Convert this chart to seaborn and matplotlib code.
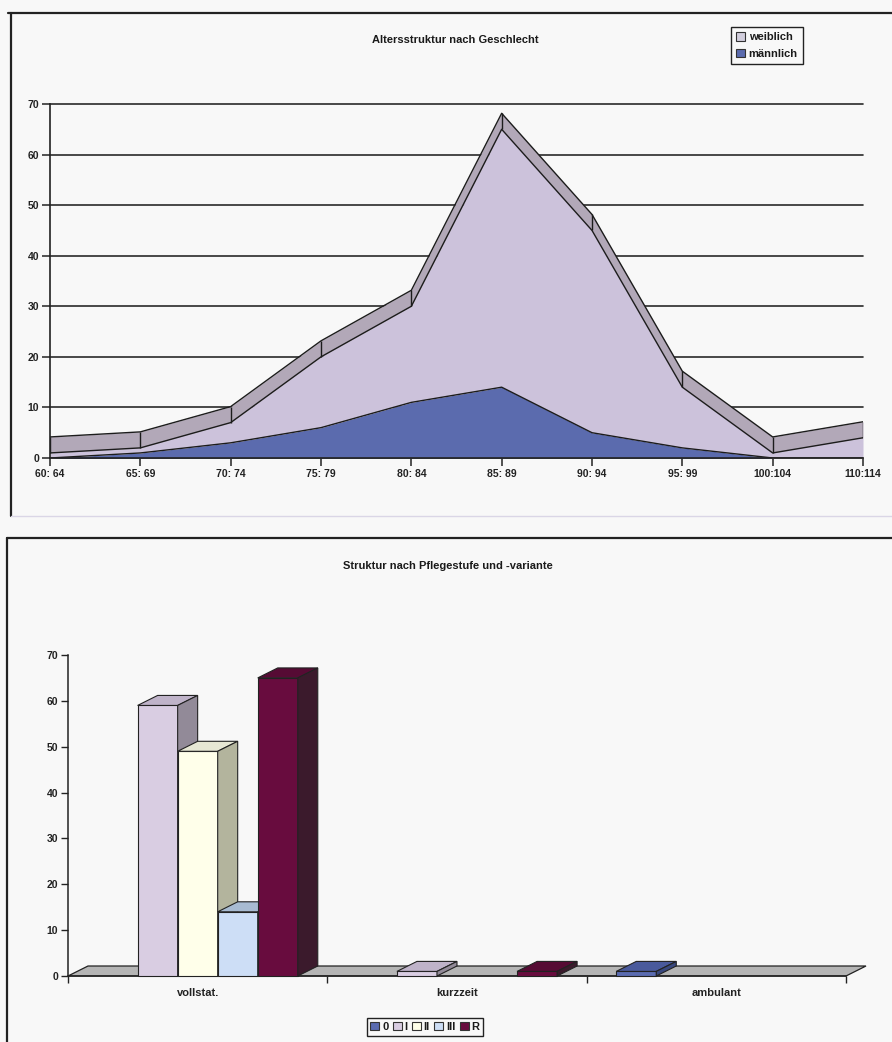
import numpy as np
import pandas as pd
import matplotlib
matplotlib.use("Agg")
import matplotlib.pyplot as plt
import seaborn as sns
from matplotlib.patches import Polygon, Patch
from matplotlib.lines import Line2D
from matplotlib.colors import to_hex

# --- Altersstruktur nach Geschlecht ---
age_groups = ["60: 64", "65: 69", "70: 74", "75: 79", "80: 84",
              "85: 89", "90: 94", "95: 99", "100:104", "110:114"]
maennlich = [0, 1, 3, 6, 11, 14, 5, 2, 0, 0]
weiblich = [1, 1, 4, 14, 19, 51, 40, 12, 1, 4]

# --- Struktur nach Pflegestufe und -variante ---
varianten = ["vollstat.", "kurzzeit", "ambulant"]
stufen = ["0", "I", "II", "III", "R"]
stufe_0 = [0, 0, 1]
stufe_I = [59, 1, 0]
stufe_II = [49, 0, 0]
stufe_III = [14, 0, 0]
stufe_R = [65, 1, 0]

W, H, DPI = 892, 1042, 100

sns.set_theme(style="ticks")
plt.rcParams["font.family"] = ["Liberation Sans Narrow", "Liberation Sans", "DejaVu Sans"]
plt.rcParams["font.weight"] = "bold"
plt.rcParams["axes.edgecolor"] = "#222222"
plt.rcParams["xtick.color"] = "#222222"
plt.rcParams["ytick.color"] = "#222222"
plt.rcParams["text.color"] = "#1a1a1a"

BG = "#F8F8F8"
fig = plt.figure(figsize=(W / DPI, H / DPI), dpi=DPI, facecolor=BG)


def fx(px):
    return px / W


def fy(py):
    return 1 - py / H


# ---------------- upper chart: stacked area with depth band ----------------
C_MALE = "#5B6BAE"
C_FEM = "#CCC2DB"
C_BAND = "#B2A8B8"
C_EDGE = "#1c1c1c"

ax1 = fig.add_axes([fx(50), fy(458), fx(863) - fx(50), fy(104) - fy(458)])
ax1.set_facecolor("none")
xpos = np.arange(len(age_groups))
male = np.asarray(maennlich, dtype=float)
total = male + np.asarray(weiblich, dtype=float)
ax1.set_xlim(0, len(age_groups) - 1)
ax1.set_ylim(0, 70)
depth = 16 * 70 / (458 - 104)  # depth band height (16 px) in data units

ax1.set_axisbelow(True)
ax1.yaxis.grid(True, color="#2a2a2a", lw=1.2)

ax1.fill_between(xpos, 0, male, color=C_MALE, lw=0, zorder=2)
ax1.fill_between(xpos, male, total, color=C_FEM, lw=0, zorder=2)
ax1.fill_between(xpos, total, total + depth, color=C_BAND, lw=0, zorder=2)

lines = pd.DataFrame({"x": np.tile(xpos, 3),
                      "y": np.concatenate([male, total, total + depth]),
                      "kante": np.repeat(["m", "front", "back"], len(xpos))})
sns.lineplot(data=lines, x="x", y="y", units="kante", estimator=None,
             color=C_EDGE, lw=1.0, ax=ax1, zorder=3)
ax1.vlines(xpos, total, total + depth, color=C_EDGE, lw=1.0, zorder=3)

ax1.set_xticks(xpos, age_groups)
ax1.set_yticks(range(0, 80, 10))
ax1.set_xlabel("")
ax1.set_ylabel("")
sns.despine(ax=ax1)
for s in ("left", "bottom"):
    ax1.spines[s].set_linewidth(1.2)
    ax1.spines[s].set_zorder(4)
ax1.tick_params(axis="both", direction="out", length=6, width=1.1,
                labelsize=7.5, pad=2)
for lab in ax1.get_xticklabels() + ax1.get_yticklabels():
    lab.set_fontweight("bold")
for gl in ax1.get_ygridlines():
    gl.set_clip_on(False)

fig.text(fx(455), fy(40), "Altersstruktur nach Geschlecht", ha="center",
         va="center", fontsize=8, fontweight="bold")
fig.legend(handles=[Patch(fc="#D2CEDD", ec="#333333", lw=0.8, label="weiblich"),
                    Patch(fc=C_MALE, ec="#333333", lw=0.8, label="männlich")],
           loc="center", bbox_to_anchor=(fx(767), fy(45.5)), frameon=True,
           fancybox=False, edgecolor="#222222", facecolor=BG, framealpha=1,
           prop={"size": 8, "weight": "bold"}, handlelength=0.8,
           handleheight=0.8, handletextpad=0.3, borderpad=0.45,
           labelspacing=0.6, borderaxespad=0)

# ---------------- lower chart: 3D clustered columns ----------------
front = {"0": "#5A6BB0", "I": "#D9CDE2", "II": "#FFFFEA", "III": "#CDDEF6", "R": "#680C3E"}
top = {"0": "#4A5A9C", "I": "#BFB3C9", "II": "#E6E7D4", "III": "#A8BBD2", "R": "#560B34"}
side = {"0": "#39487E", "I": "#928A98", "II": "#B3B49D", "III": "#8C9DB5", "R": "#3B1A2C"}

records = []
for s, vals in zip(stufen, [stufe_0, stufe_I, stufe_II, stufe_III, stufe_R]):
    for v, val in zip(varianten, vals):
        records.append({"Variante": v, "Stufe": s, "Anzahl": val})
df = pd.DataFrame(records)

ax2 = fig.add_axes([fx(68), fy(976), fx(846) - fx(68), fy(655) - fy(976)])
ax2.set_facecolor("none")
ax2.set_xlim(-0.5, 2.5)
ax2.set_ylim(0, 70)

# depth offset of 20 px right, 10 px up, in data units
dxd = 20 * 3.0 / (846 - 68)
dyd = 10 * 70.0 / (976 - 655)

floor = Polygon([(-0.5, 0), (2.5, 0), (2.5 + dxd, dyd), (-0.5 + dxd, dyd)],
                closed=True, fc="#B5B5B5", ec="#222222", lw=0.9,
                clip_on=False, zorder=1)
ax2.add_patch(floor)

sns.barplot(data=df, x="Variante", y="Anzahl", hue="Stufe", order=varianten,
            hue_order=stufen, palette=front, width=0.772, saturation=1,
            edgecolor="#222222", linewidth=0.8, errorbar=None, legend=False,
            ax=ax2)
ax2.set_xlim(-0.5, 2.5)
ax2.set_ylim(0, 70)

by_color = {to_hex(c): k for k, c in front.items()}
bars = sorted([p for p in ax2.patches if p is not floor], key=lambda p: p.get_x())
for rank, p in enumerate(bars):
    h = p.get_height()
    if not np.isfinite(h) or h <= 0:
        p.set_visible(False)
        continue
    key = by_color.get(to_hex(p.get_facecolor()))
    x0, w = p.get_x(), p.get_width()
    z = 3 + rank * 0.1
    p.set_zorder(z)
    p.set_clip_on(False)
    ax2.add_patch(Polygon([(x0, h), (x0 + w, h), (x0 + w + dxd, h + dyd), (x0 + dxd, h + dyd)],
                          closed=True, fc=top[key], ec="#222222", lw=0.8,
                          clip_on=False, zorder=z))
    ax2.add_patch(Polygon([(x0 + w, 0), (x0 + w + dxd, dyd), (x0 + w + dxd, h + dyd), (x0 + w, h)],
                          closed=True, fc=side[key], ec="#222222", lw=0.8,
                          clip_on=False, zorder=z))

ax2.set_xlabel("")
ax2.set_ylabel("")
ax2.set_yticks(range(0, 80, 10))
ax2.set_xticks([-0.5, 0.5, 1.5, 2.5], minor=True)
sns.despine(ax=ax2)
for s in ("left", "bottom"):
    ax2.spines[s].set_linewidth(1.1)
ax2.spines["bottom"].set_zorder(2)
ax2.tick_params(axis="y", direction="out", length=5, width=1.0, labelsize=7.5, pad=2)
ax2.tick_params(axis="x", which="major", length=0, labelsize=8, pad=9)
ax2.tick_params(axis="x", which="minor", direction="out", length=5, width=1.0)
for lab in ax2.get_xticklabels() + ax2.get_yticklabels():
    lab.set_fontweight("bold")

fig.text(fx(448), fy(566), "Struktur nach Pflegestufe und -variante",
         ha="center", va="center", fontsize=8, fontweight="bold")
fig.legend(handles=[Patch(fc=front[s], ec="#333333", lw=0.8, label=s) for s in stufen],
           loc="center", bbox_to_anchor=(fx(425), fy(1027)), ncol=5,
           frameon=True, fancybox=False, edgecolor="#222222", facecolor=BG,
           framealpha=1, prop={"size": 8, "weight": "bold"}, handlelength=0.8,
           handleheight=0.8, handletextpad=0.25, columnspacing=0.4,
           borderpad=0.35, borderaxespad=0)

# ---------------- chart frames ----------------
frame = dict(transform=fig.transFigure, color="#222222", lw=1.6)
fig.add_artist(Line2D([fx(8), 1], [fy(13), fy(13)], **frame))
fig.add_artist(Line2D([fx(11), fx(11)], [fy(13), fy(516)], **frame))
fig.add_artist(Line2D([fx(11), 1], [fy(516), fy(516)], transform=fig.transFigure,
                      color="#DAD6E6", lw=1.0))
fig.add_artist(Line2D([fx(7), 1], [fy(538), fy(538)], **frame))
fig.add_artist(Line2D([fx(7), fx(7)], [fy(538), 0], **frame))

fig.savefig("out.png", dpi=DPI, facecolor=fig.get_facecolor())
